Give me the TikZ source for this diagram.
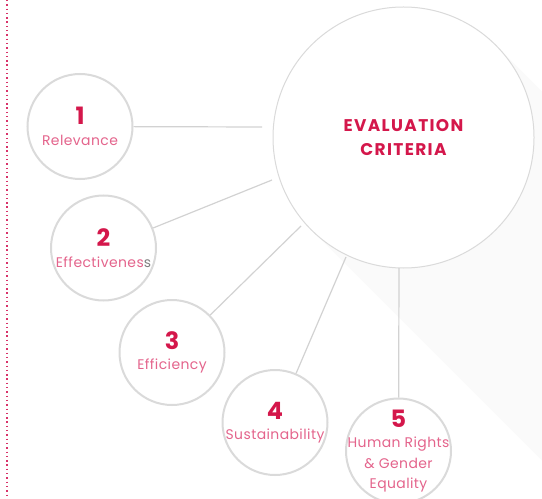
\documentclass[tikz,border=0pt]{standalone}
\usepackage{fontspec}
\setmainfont{Poppins}
\definecolor{crim}{HTML}{D4174B}
\definecolor{pinkl}{HTML}{E4648C}
\definecolor{ringc}{HTML}{DADADA}
\definecolor{connc}{HTML}{D2D2D2}
\definecolor{dotc}{HTML}{D8336A}
\definecolor{sgray}{HTML}{808080}
\definecolor{shadc}{HTML}{FAFAFA}
\newcommand\crnum[1]{{\fontsize{24}{24}\selectfont\bfseries\color{crim}#1}}
\begin{document}
\begin{tikzpicture}[x=1bp,y=-1bp,
  small/.style={circle, draw=ringc, line width=2bp, fill=white, minimum size=105bp,
    inner sep=-40bp, align=center, text=pinkl,
    font=\fontsize{14}{20.5}\selectfont\addfontfeatures{LetterSpace=3}},
  big/.style={circle, draw=ringc, line width=1bp, fill=white, minimum size=261bp,
    inner sep=0pt, align=center, text=crim,
    font=\fontsize{17}{24}\selectfont\bfseries\addfontfeatures{LetterSpace=8}},
  conn/.style={draw=connc, line width=1.2bp},
  dotline/.style={draw=dotc, line width=1.6bp, dash pattern=on 1.4bp off 2.9bp},
]
\useasboundingbox (0,0) rectangle (542,499);
% long shadow of the big circle
\begin{scope}
  \clip (0,0) rectangle (542,499);
  \fill[shadc] (311.2,229.8) -- (611.2,529.8) -- (795.8,345.2) -- (495.8,45.2) -- cycle;
\end{scope}
% dotted margin line
\coordinate (dtop) at (7,0);
\coordinate (dbot) at (7,499);
\draw[dotline] (dtop) -- (dbot);
% circles
\node[big] (big) at (403.5,137.5) {EVALUATION\\CRITERIA};
\node[small] (c1) at (80,126.5) {\crnum{1}\\Relevance};
\node[small] (c2) at (103.5,248) {\crnum{2}\\Effectivenes{\color{sgray}s}};
\node[small] (c3) at (172,352.5) {\crnum{3}\\Efficiency};
\node[small] (c4) at (275,422.5) {\crnum{4}\\Sustainability};
\node[small] (c5) at (398.5,451) {\crnum{5}\\Human Rights\\\& Gender\\Equality};
% connector ends near the big circle
\coordinate (e1) at (262,127);
\coordinate (e2) at (272,180);
\coordinate (e3) at (301,226);
\coordinate (e4) at (346,257);
\coordinate (e5) at (399,268);
\draw[conn] (c1) -- (e1);
\draw[conn] (c2) -- (e2);
\draw[conn] (c3) -- (e3);
\draw[conn] (c4) -- (e4);
\draw[conn] (c5) -- (e5);
\end{tikzpicture}
\end{document}
